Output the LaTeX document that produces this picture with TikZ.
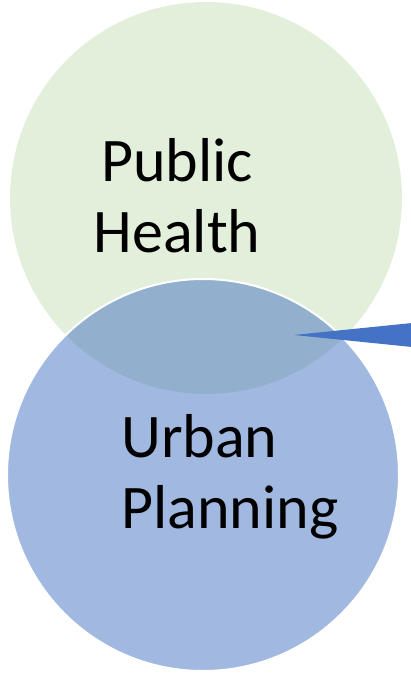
\documentclass[tikz,border=0pt]{standalone}
\usepackage{fontspec}
\setmainfont{Carlito}
\definecolor{greenfill}{HTML}{E2EFDA}
\definecolor{bluefill}{HTML}{4472C4}
\begin{document}
\begin{tikzpicture}[x=1pt,y=-1pt,
  circ/.style={circle,minimum size=392pt,inner sep=0pt},
  label/.style={font=\fontsize{62}{71}\selectfont,inner sep=0pt}]
\useasboundingbox (0,0) rectangle (410,679);
\node[circ,fill=greenfill] (ph) at (206,198) {};
\node[circ,fill=bluefill,fill opacity=0.5,draw=white,line width=2pt] (up) at (203,475) {};
\coordinate (tip) at (294,335);
\coordinate (ct) at (412,323);
\coordinate (cb) at (412,347);
\fill[bluefill] (tip) -- (ct) -- (cb) -- cycle;
\node[label,align=center,anchor=base] (tph) at (177,252) {Public\\Health};
\node[label,align=left,anchor=base west] (tup) at (121,528) {Urban\\Planning};
\end{tikzpicture}
\end{document}
